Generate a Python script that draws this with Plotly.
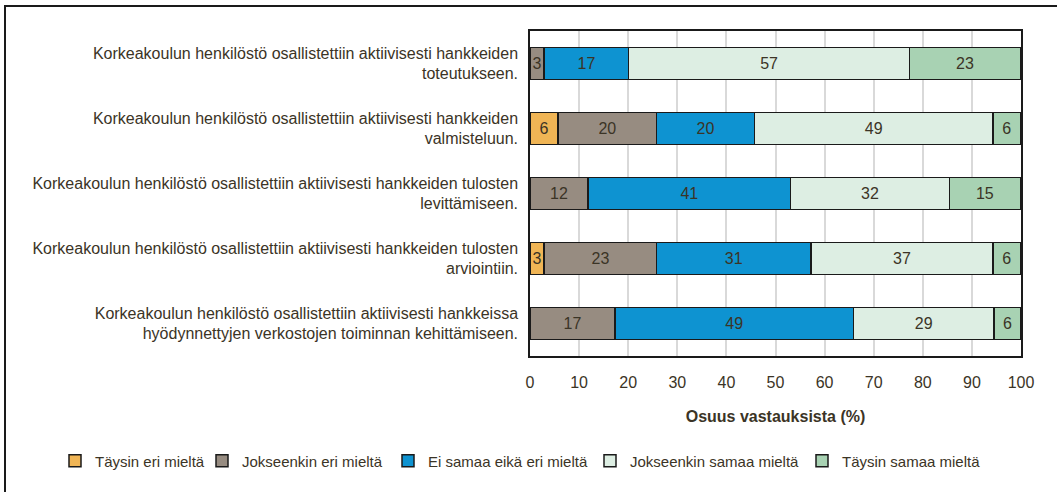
import plotly.graph_objects as go

categories = [
    "Korkeakoulun henkilöstö osallistettiin aktiivisesti hankkeiden<br>toteutukseen.",
    "Korkeakoulun henkilöstö osallistettiin aktiivisesti hankkeiden<br>valmisteluun.",
    "Korkeakoulun henkilöstö osallistettiin aktiivisesti hankkeiden tulosten<br>levittämiseen.",
    "Korkeakoulun henkilöstö osallistettiin aktiivisesti hankkeiden tulosten<br>arviointiin.",
    "Korkeakoulun henkilöstö osallistettiin aktiivisesti hankkeissa<br>hyödynnettyjen verkostojen toiminnan kehittämiseen.",
]
series_names = ["Täysin eri mieltä", "Jokseenkin eri mieltä", "Ei samaa eikä eri mieltä",
                "Jokseenkin samaa mieltä", "Täysin samaa mieltä"]
taysin_eri = [0, 5.7, 0, 2.9, 0]
jokseenkin_eri = [2.9, 20.1, 11.8, 22.9, 17.3]
ei_samaa_eika_eri = [17.2, 19.9, 41.3, 31.4, 48.6]
jokseenkin_samaa = [57.2, 48.6, 32.3, 37.1, 28.6]
taysin_samaa = [22.6, 5.6, 14.5, 5.6, 5.5]
tick_vals = [0, 10, 20, 30, 40, 50, 60, 70, 80, 90, 100]

series = [taysin_eri, jokseenkin_eri, ei_samaa_eika_eri, jokseenkin_samaa, taysin_samaa]
colors = ["#F0B555", "#978C81", "#0E93D1", "#DDEEE3", "#A8D2B3"]
txt = "#3B3426"
FONT = "Liberation Sans, Arial, sans-serif"

L, T, R, B = 530, 31, 36, 136
W, H = 1057, 492
PW = W - L - R
PH = H - T - B

legend_ids = ["legend", "legend2", "legend3", "legend4", "legend5"]
legend_left_px = [55, 202, 388, 590, 802]

fig = go.Figure()
for name, vals, col, lid in zip(series_names, series, colors, legend_ids):
    fig.add_trace(go.Bar(
        y=categories, x=vals, name=name, orientation="h", legend=lid,
        marker=dict(color=col, line=dict(color="#1a1a1a", width=1.5)),
        text=[str(int(v + 0.5)) if v > 0 else "" for v in vals],
        textposition="inside", insidetextanchor="middle",
        textfont=dict(family=FONT, size=16, color=txt),
        cliponaxis=False, constraintext="none",
        width=0.49,
    ))

legend_layout = {}
for lid, px in zip(legend_ids, legend_left_px):
    legend_layout[lid] = dict(
        x=(px - L) / PW, xanchor="left", y=(T + PH - 461) / PH, yanchor="middle",
        orientation="h", font=dict(family=FONT, size=15, color=txt),
        itemwidth=30, bgcolor="rgba(0,0,0,0)",
    )

fig.update_layout(
    barmode="stack",
    width=W, height=H,
    margin=dict(l=L, r=R, t=T, b=B, autoexpand=False),
    paper_bgcolor="white", plot_bgcolor="white",
    font=dict(family=FONT, size=16, color=txt),
    showlegend=True,
    **legend_layout,
)
fig.update_xaxes(
    range=[0, 100], tickvals=tick_vals, showgrid=True, gridcolor="#D9D9D9", gridwidth=1.5,
    zeroline=False, showline=True, linecolor="#1a1a1a", linewidth=1.5, mirror=True,
    ticks="", tickfont=dict(family=FONT, size=16, color=txt), ticklabelstandoff=11,
    automargin=False,
    title=dict(text="<b>Osuus vastauksista (%)</b>", font=dict(family=FONT, size=16, color=txt),
               standoff=21),
)
fig.update_yaxes(
    categoryorder="array", categoryarray=categories[::-1],
    showline=True, linecolor="#1a1a1a", linewidth=1.5, mirror=True, showgrid=False,
    ticks="", tickfont=dict(family=FONT, size=16, color=txt), ticklabelstandoff=7,
    automargin=False,
)
fig.add_shape(type="rect", xref="paper", yref="paper",
              x0=(5 - L) / PW, x1=(1070 - L) / PW,
              y0=(T + PH - 510) / PH, y1=(T + PH - 6) / PH,
              line=dict(color="#1a1a1a", width=2), fillcolor="rgba(0,0,0,0)", layer="below")
fig.write_html("out.html", config={"displayModeBar": False},
               post_script="document.body.style.margin='0';document.body.style.overflow='hidden';")
